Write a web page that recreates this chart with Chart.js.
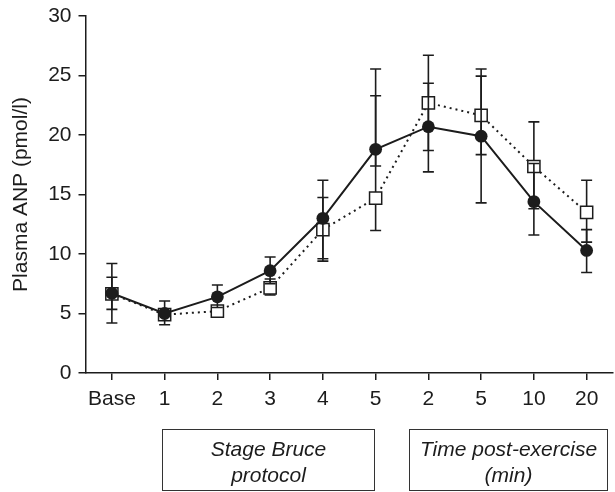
<!DOCTYPE html>
<html>
<head>
<meta charset="utf-8">
<script src="https://cdn.jsdelivr.net/npm/chart.js@4/dist/chart.umd.min.js"></script>
<style>
  html, body { margin: 0; padding: 0; background: #fff; }
  #c { display: block; }
</style>
</head>
<body>
<canvas id="c" width="615" height="492"></canvas>
<script>
// Sampling points: baseline, Bruce stages 1-5, then minutes after exercise
const categories = ['Base', '1', '2', '3', '4', '5', '2', '5', '10', '20'];

// Filled circles (solid line)
const circleMean = [6.7, 5.0, 6.4, 8.6, 13.0, 18.8, 20.7, 19.9, 14.4, 10.3];
const circleLow  = [5.35, 4.05, 5.5, 7.5, 9.6, 17.4, 16.9, 14.3, 11.6, 8.45];
const circleHigh = [8.05, 6.05, 7.4, 9.75, 16.2, 25.55, 24.35, 25.55, 17.6, 12.05];

// Open squares (dotted line)
const squareMean = [6.65, 4.9, 5.2, 7.15, 12.05, 14.7, 22.7, 21.65, 17.35, 13.5];
const squareLow  = [4.2, 4.6, 4.9, 6.55, 9.4, 11.98, 18.7, 18.35, 13.8, 11.0];
const squareHigh = [9.2, 5.3, 5.45, 7.9, 14.75, 23.3, 26.7, 24.95, 21.1, 16.2];

const yTicks = [0, 5, 10, 15, 20, 25, 30];

// Bracketed captions under the category axis
const panelRanges = [[1, 5], [6, 9]];
const panelLabels = [['Stage Bruce', 'protocol'], ['Time post-exercise', '(min)']];

const INK = '#1c1c1c';
const FONT = '"Liberation Sans", Arial, Helvetica, sans-serif';

const errorRanges = [
  { low: circleLow, high: circleHigh },
  { low: squareLow, high: squareHigh }
];

// Error bars are drawn just before each dataset, so a series' own
// markers sit on top of its whiskers.
const errorBarPlugin = {
  id: 'errorBars',
  beforeDatasetDraw(chart, args) {
    const range = errorRanges[args.index];
    if (!range) return;
    const meta = args.meta;
    const ys = chart.scales.y;
    const ctx = chart.ctx;
    ctx.save();
    ctx.strokeStyle = INK;
    ctx.lineWidth = 1.6;
    ctx.setLineDash([]);
    const cap = 5.5;
    meta.data.forEach((pt, i) => {
      const x = pt.x;
      const yl = ys.getPixelForValue(range.low[i]);
      const yh = ys.getPixelForValue(range.high[i]);
      ctx.beginPath();
      ctx.moveTo(x, yl); ctx.lineTo(x, yh);
      ctx.moveTo(x - cap, yl); ctx.lineTo(x + cap, yl);
      ctx.moveTo(x - cap, yh); ctx.lineTo(x + cap, yh);
      ctx.stroke();
    });
    ctx.restore();
  }
};

const panelPlugin = {
  id: 'panels',
  afterDraw(chart) {
    const xs = chart.scales.x;
    const ctx = chart.ctx;
    // how far each frame reaches past its first / last category
    const pads = [[3, -2], [19.5, 20.5]];
    ctx.save();
    ctx.strokeStyle = '#333';
    ctx.lineWidth = 1;
    ctx.fillStyle = INK;
    ctx.font = 'italic 21px ' + FONT;
    ctx.textAlign = 'center';
    ctx.textBaseline = 'alphabetic';
    panelRanges.forEach((r, k) => {
      const left = Math.round(xs.getPixelForValue(r[0]) - pads[k][0]) + 0.5;
      const right = Math.round(xs.getPixelForValue(r[1]) + pads[k][1]) + 0.5;
      const top = 429.5, bottom = 490.5;
      ctx.strokeRect(left, top, right - left, bottom - top);
      const cx = (left + right) / 2;
      ctx.fillText(panelLabels[k][0], cx, 456);
      ctx.fillText(panelLabels[k][1], cx, 482);
    });
    ctx.restore();
  }
};

new Chart(document.getElementById('c'), {
  type: 'line',
  data: {
    labels: categories,
    datasets: [
      {
        data: circleMean,
        order: 1,
        borderColor: INK,
        borderWidth: 2,
        pointStyle: 'circle',
        pointRadius: 6.4,
        pointBackgroundColor: INK,
        pointBorderColor: INK,
        pointBorderWidth: 0,
        tension: 0
      },
      {
        data: squareMean,
        order: 2,
        borderColor: INK,
        borderWidth: 2,
        borderDash: [2, 4],
        pointStyle: 'rect',
        pointRadius: 8.6,
        pointBackgroundColor: '#fff',
        pointBorderColor: INK,
        pointBorderWidth: 1.5,
        tension: 0
      }
    ]
  },
  options: {
    responsive: false,
    animation: false,
    devicePixelRatio: 1,
    layout: { autoPadding: false, padding: { left: 0, top: 16, right: 2, bottom: 0 } },
    plugins: { legend: { display: false }, tooltip: { enabled: false } },
    scales: {
      x: {
        type: 'category',
        offset: true,
        grid: { display: true, drawOnChartArea: false, drawTicks: true, tickLength: 7, color: INK, lineWidth: 1.5, offset: false },
        border: { display: true, color: INK, width: 1.5 },
        ticks: { color: INK, font: { family: FONT, size: 21 }, padding: 7, maxRotation: 0, autoSkip: false },
        afterFit(s) { s.height = 119; s.paddingLeft = 0; s.paddingRight = 0; }
      },
      y: {
        min: 0,
        max: 30,
        afterBuildTicks(s) { s.ticks = yTicks.map(v => ({ value: v })); },
        grid: { display: true, drawOnChartArea: false, drawTicks: true, tickLength: 7, color: INK, lineWidth: 1.5 },
        border: { display: true, color: INK, width: 1.5 },
        ticks: { color: INK, font: { family: FONT, size: 21 }, padding: 7 },
        title: { display: true, text: 'Plasma ANP (pmol/l)', color: INK, font: { family: FONT, size: 21 }, padding: { top: 9, bottom: 0 } },
        afterFit(s) { s.width = 85.5; s.paddingTop = 0; s.paddingBottom = 0; }
      }
    }
  },
  plugins: [errorBarPlugin, panelPlugin]
});
</script>
</body>
</html>
